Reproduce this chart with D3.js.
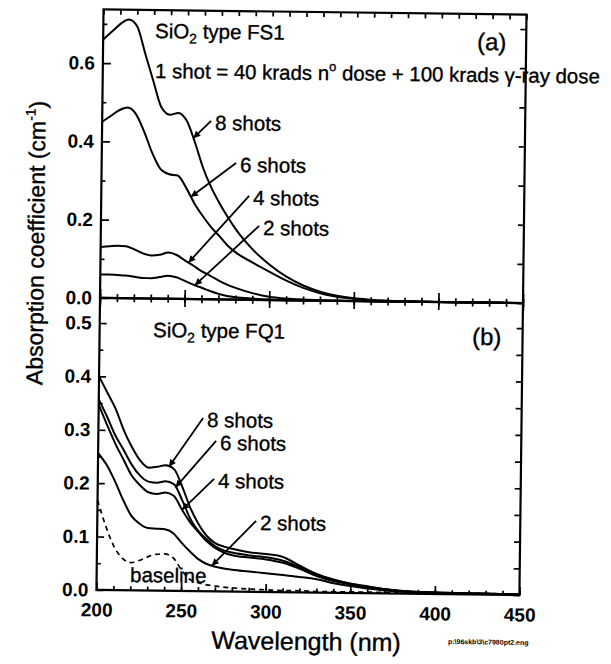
<!DOCTYPE html>
<html><head><meta charset="utf-8">
<script src="https://cdn.jsdelivr.net/npm/d3@7"></script>
<style>
body{margin:0;background:#fff}
svg text{font-family:"Liberation Sans",Arial,Helvetica,sans-serif;fill:#000}
.lbl{stroke:#000;stroke-width:0.35px}
</style>
</head><body>
<svg id="chart" width="611" height="664"></svg>
<script>
// ---------- DATA ----------
const wavelengths = [200,205,210,215,220,225,230,235,240,245,250,255,260,265,270,275,280,290,300,310,320,330,340,350,360,380,400,425,450];

// Panel (a): SiO2 type FS1
const fs1Shots8 = [0.66,0.68,0.70,0.712,0.695,0.625,0.555,0.488,0.47,0.475,0.455,0.40,0.335,0.285,0.245,0.21,0.178,0.128,0.09,0.06,0.038,0.023,0.013,0.007,0.004,0.001,0,0,0];
const fs1Shots6 = [0.45,0.465,0.48,0.487,0.47,0.425,0.37,0.33,0.318,0.315,0.285,0.245,0.213,0.185,0.162,0.138,0.12,0.095,0.072,0.05,0.032,0.019,0.01,0.005,0.002,0.001,0,0,0];
const fs1Shots4 = [0.13,0.132,0.134,0.133,0.125,0.115,0.11,0.112,0.118,0.112,0.098,0.085,0.071,0.06,0.048,0.038,0.03,0.017,0.008,0.004,0.002,0.001,0,0,0,0,0,0,0];
const fs1Shots2 = [0.06,0.06,0.059,0.058,0.055,0.052,0.052,0.055,0.059,0.055,0.046,0.037,0.029,0.021,0.014,0.009,0.006,0.003,0.001,0,0,0,0,0,0,0,0,0,0];

// Panel (b): SiO2 type FQ1
const fq1Shots8 = [0.40,0.37,0.34,0.30,0.268,0.243,0.23,0.232,0.235,0.228,0.195,0.155,0.125,0.103,0.09,0.084,0.08,0.074,0.071,0.066,0.05,0.035,0.025,0.018,0.013,0.005,0.003,0.002,0.001];
const fq1Shots6 = [0.357,0.325,0.29,0.263,0.235,0.215,0.204,0.202,0.205,0.2,0.17,0.135,0.112,0.097,0.084,0.077,0.073,0.068,0.065,0.059,0.047,0.033,0.024,0.017,0.012,0.005,0.003,0.002,0.001];
const fq1Shots4 = [0.347,0.31,0.275,0.245,0.215,0.197,0.184,0.181,0.184,0.178,0.152,0.128,0.11,0.093,0.081,0.073,0.068,0.064,0.061,0.055,0.044,0.031,0.022,0.016,0.011,0.005,0.003,0.002,0.001];
const fq1Shots2 = [0.256,0.235,0.205,0.17,0.14,0.125,0.117,0.116,0.115,0.108,0.09,0.074,0.06,0.051,0.046,0.043,0.041,0.038,0.035,0.032,0.029,0.025,0.018,0.013,0.009,0.004,0.002,0.001,0.001];
const fq1Baseline = [0.168,0.12,0.082,0.06,0.052,0.056,0.063,0.068,0.069,0.062,0.04,0.022,0.016,0.012,0.01,0.008,0.007,0.005,0.004,0.003,0.003,0.002,0.002,0.002,0.002,0.002,0.002,0.002,0.002];

// Tick values
const xMajorTicks = [200,250,300,350,400,450];
const xMinorTicks = d3.range(200,451,10);
const yATickLabels = [0,0.2,0.4,0.6];
const yAMinorTicks = [0.1,0.3,0.5,0.7];
const yBTickLabels = [0,0.1,0.2,0.3,0.4,0.5];
const yBMinorTicks = [0.05,0.15,0.25,0.35,0.45];

// Arrow targets (wavelength on the curve the arrow points at)
const seriesA = [
  {name:"8 shots", values:fs1Shots8, arrowAt:254},
  {name:"6 shots", values:fs1Shots6, arrowAt:253},
  {name:"4 shots", values:fs1Shots4, arrowAt:252},
  {name:"2 shots", values:fs1Shots2, arrowAt:256}
];
const seriesB = [
  {name:"8 shots", values:fq1Shots8, arrowAt:242},
  {name:"6 shots", values:fq1Shots6, arrowAt:246},
  {name:"4 shots", values:fq1Shots4, arrowAt:250},
  {name:"2 shots", values:fq1Shots2, arrowAt:268}
];

// ---------- LAYOUT ----------
const L = 100, R = 523, TOP = 12, MID = 300.5, BOT = 592.5;
const ROT = 0.7, CX = 312, CY = 300;
const sn = Math.sin(ROT*Math.PI/180), cs = Math.cos(ROT*Math.PI/180);
function unrot(x,y){const dx=x-CX, dy=y-CY; return [CX+dx*cs+dy*sn, CY-dx*sn+dy*cs];}

// label positions measured in the picture (start x, baseline y)
const labelPosA = [[215,130],[240,172],[253,205],[263,235]];
const labelPosB = [[207,427],[220,450],[218,488],[260,530]];

const svg = d3.select("#chart");
const defs = svg.append("defs");
defs.append("marker").attr("id","ah").attr("viewBox","0 0 10 10").attr("refX",10).attr("refY",5)
  .attr("markerWidth",9).attr("markerHeight",7).attr("markerUnits","userSpaceOnUse").attr("orient","auto")
  .append("path").attr("d","M0,0 L10,5 L0,10 Z").attr("fill","#000");

const g = svg.append("g").attr("transform",`rotate(${ROT},${CX},${CY})`);

const x = d3.scaleLinear().domain([200,450]).range([L,R]);
const yA = d3.scaleLinear().domain([0,0.737]).range([MID,TOP]);
const yB = d3.scaleLinear().domain([0,0.547]).range([BOT,MID]);

const fmt = d3.format(".1f");
function styleAxis(sel){
  sel.select(".domain").remove();
  sel.selectAll("line").attr("stroke","#000").attr("stroke-width",1.7);
  sel.selectAll("text").attr("font-size","19px").attr("font-weight","bold").attr("fill","#000")
     .attr("font-family","'Liberation Sans',Arial,sans-serif");
}

// Panel (a) axes
g.append("g").attr("transform",`translate(${L},0)`)
  .call(d3.axisLeft(yA).tickValues(yATickLabels).tickSizeInner(-8).tickSizeOuter(0).tickPadding(8).tickFormat(fmt)).call(styleAxis);
g.append("g").attr("transform",`translate(${L},0)`)
  .call(d3.axisLeft(yA).tickValues(yAMinorTicks).tickSizeInner(-4).tickSizeOuter(0).tickFormat("")).call(styleAxis);
g.append("g").attr("transform",`translate(${R},0)`)
  .call(d3.axisRight(yA).tickValues(yATickLabels.concat(yAMinorTicks)).tickSizeInner(-6).tickSizeOuter(0).tickFormat("")).call(styleAxis);
g.append("g").attr("transform",`translate(0,${TOP})`)
  .call(d3.axisTop(x).tickValues(xMinorTicks).tickSizeInner(-5).tickSizeOuter(0).tickFormat("")).call(styleAxis);

// Divider axis: ticks crossing both ways
g.append("g").attr("transform",`translate(0,${MID})`)
  .call(d3.axisTop(x).tickValues(xMinorTicks).tickSizeInner(4).tickSizeOuter(0).tickFormat("")).call(styleAxis);
g.append("g").attr("transform",`translate(0,${MID})`)
  .call(d3.axisBottom(x).tickValues(xMinorTicks).tickSizeInner(4).tickSizeOuter(0).tickFormat("")).call(styleAxis);
g.append("g").attr("transform",`translate(0,${MID})`)
  .call(d3.axisTop(x).tickValues(xMajorTicks).tickSizeInner(9).tickSizeOuter(0).tickFormat("")).call(styleAxis);
g.append("g").attr("transform",`translate(0,${MID})`)
  .call(d3.axisBottom(x).tickValues(xMajorTicks).tickSizeInner(8).tickSizeOuter(0).tickFormat("")).call(styleAxis);

// Panel (b) axes
g.append("g").attr("transform",`translate(${L},0)`)
  .call(d3.axisLeft(yB).tickValues(yBTickLabels).tickSizeInner(-7).tickSizeOuter(0).tickPadding(8).tickFormat(fmt)).call(styleAxis);
g.append("g").attr("transform",`translate(${L},0)`)
  .call(d3.axisLeft(yB).tickValues(yBMinorTicks).tickSizeInner(-4).tickSizeOuter(0).tickFormat("")).call(styleAxis);
g.append("g").attr("transform",`translate(${R},0)`)
  .call(d3.axisRight(yB).tickValues(yBTickLabels.concat(yBMinorTicks)).tickSizeInner(-6).tickSizeOuter(0).tickFormat("")).call(styleAxis);
g.append("g").attr("transform",`translate(0,${BOT})`)
  .call(d3.axisBottom(x).tickValues(xMinorTicks).tickSizeInner(-4).tickSizeOuter(0).tickFormat("")).call(styleAxis);
g.append("g").attr("transform",`translate(0,${BOT})`)
  .call(d3.axisBottom(x).tickValues(xMajorTicks).tickSizeInner(-8).tickSizeOuter(0).tickPadding(13).tickFormat(d3.format("d"))).call(styleAxis);

// Frames
g.append("rect").attr("x",L).attr("y",TOP).attr("width",R-L).attr("height",MID-TOP)
  .attr("fill","none").attr("stroke","#000").attr("stroke-width",2.2);
g.append("rect").attr("x",L).attr("y",MID).attr("width",R-L).attr("height",BOT-MID)
  .attr("fill","none").attr("stroke","#000").attr("stroke-width",2.2);

// Curves
function drawSeries(series, yScale){
  const line = d3.line().x((d,i)=>x(wavelengths[i])).y(d=>yScale(d)).curve(d3.curveMonotoneX);
  series.forEach(s=>{
    g.append("path").datum(s.values).attr("d",line).attr("fill","none")
      .attr("stroke","#000").attr("stroke-width",2).attr("stroke-linejoin","round");
  });
}
drawSeries(seriesA, yA);
drawSeries(seriesB, yB);
// baseline (dashed)
g.append("path").datum(fq1Baseline)
  .attr("d", d3.line().x((d,i)=>x(wavelengths[i])).y(d=>yB(d)).curve(d3.curveMonotoneX))
  .attr("fill","none").attr("stroke","#000").attr("stroke-width",1.7).attr("stroke-dasharray","5,4");

// Labels with arrows
function valueAt(values, w){
  const i = d3.bisectRight(wavelengths, w) - 1;
  const w0 = wavelengths[i], w1 = wavelengths[i+1];
  const t = (w-w0)/(w1-w0);
  return values[i] + t*(values[i+1]-values[i]);
}
function drawLabels(series, positions, yScale){
  series.forEach((s,i)=>{
    const [lx,ly] = unrot(positions[i][0], positions[i][1]);
    g.append("text").attr("class","lbl").attr("x",lx).attr("y",ly).attr("font-size","20.5px").text(s.name);
    const tx = x(s.arrowAt), ty = yScale(valueAt(s.values, s.arrowAt));
    g.append("line").attr("x1",lx-4).attr("y1",ly-9).attr("x2",tx).attr("y2",ty)
      .attr("stroke","#000").attr("stroke-width",1.8).attr("marker-end","url(#ah)");
  });
}
drawLabels(seriesA, labelPosA, yA);
drawLabels(seriesB, labelPosB, yB);

// Panel titles
function sio2(px,py,suffix){
  const [tx,ty] = unrot(px,py);
  const t = g.append("text").attr("class","lbl").attr("x",tx).attr("y",ty).attr("font-size","20.5px");
  t.append("tspan").text("SiO");
  t.append("tspan").attr("font-size","14px").attr("dy",5).text("2");
  t.append("tspan").attr("dy",-5).text(" type " + suffix);
}
sio2(155,38,"FS1");
sio2(153,337,"FQ1");
{
  const [tx,ty] = unrot(155,78);
  const t = g.append("text").attr("class","lbl").attr("x",tx).attr("y",ty).attr("font-size","20.4px");
  t.append("tspan").text("1 shot = 40 krads n");
  t.append("tspan").attr("font-size","13px").attr("dy",-9).text("o");
  t.append("tspan").attr("dy",9).text(" dose + 100 krads \u03B3-ray dose");
}
{
  const [ax,ay] = unrot(477,50);
  g.append("text").attr("class","lbl").attr("x",ax).attr("y",ay).attr("font-size","24px").text("(a)");
  const [bx,by] = unrot(472,345);
  g.append("text").attr("class","lbl").attr("x",bx).attr("y",by).attr("font-size","24px").text("(b)");
  const [blx,bly] = unrot(130,582);
  g.append("text").attr("class","lbl").attr("x",blx).attr("y",bly).attr("font-size","20.5px").text("baseline");
  const [fx,fy] = unrot(448,644);
  g.append("text").attr("x",fx).attr("y",fy).attr("font-size","7px").attr("font-weight","bold").text("p:\\96skb\\3\\c7980pt2.eng");
}

// Axis titles
{
  const [xx,xy] = unrot(306,650);
  g.append("text").attr("class","lbl").attr("x",xx).attr("y",xy).attr("text-anchor","middle").attr("font-size","25px").text("Wavelength (nm)");
  const [yx,yy] = unrot(44,243);
  const t = g.append("text").attr("class","lbl").attr("transform",`translate(${yx},${yy}) rotate(-90)`).attr("text-anchor","middle").attr("font-size","23px");
  t.append("tspan").text("Absorption coefficient (cm");
  t.append("tspan").attr("font-size","14px").attr("dy",-10).text("-1");
  t.append("tspan").attr("dy",10).text(")");
}
</script>
</body></html>
